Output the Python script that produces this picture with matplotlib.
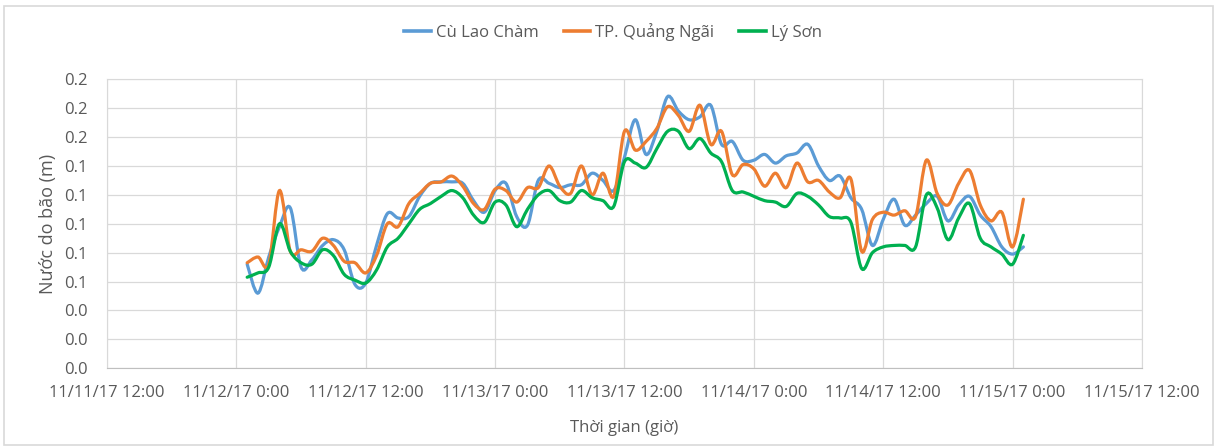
import numpy as np
import pandas as pd
import matplotlib
matplotlib.use("Agg")
import matplotlib.pyplot as plt
import matplotlib.dates as mdates
from matplotlib.path import Path
from matplotlib.patches import PathPatch, Rectangle
from matplotlib.lines import Line2D
from matplotlib.ticker import FormatStrFormatter

plt.rcParams['font.family'] = ['Open Sans', 'DejaVu Sans']

# hourly readings, 11/12/17 1:00 -> 11/15/17 1:00
times = pd.date_range('2017-11-12 01:00', periods=73, freq='h')

cu_lao_cham = [0.072, 0.052, 0.077, 0.098, 0.111, 0.070, 0.075, 0.085, 0.089, 0.082,
               0.058, 0.059, 0.085, 0.107, 0.104, 0.105, 0.119, 0.128, 0.129, 0.129,
               0.128, 0.116, 0.108, 0.123, 0.128, 0.105, 0.099, 0.130, 0.128, 0.125,
               0.127, 0.127, 0.135, 0.130, 0.123, 0.146, 0.172, 0.148, 0.164, 0.188,
               0.178, 0.172, 0.174, 0.182, 0.155, 0.157, 0.144, 0.144, 0.148, 0.142,
               0.147, 0.149, 0.155, 0.140, 0.130, 0.133, 0.118, 0.110, 0.085, 0.103,
               0.117, 0.099, 0.106, 0.114, 0.119, 0.102, 0.113, 0.119, 0.106, 0.098,
               0.084, 0.079, 0.084]

quang_ngai = [0.073, 0.077, 0.072, 0.123, 0.081, 0.082, 0.081, 0.090, 0.085, 0.074,
              0.073, 0.066, 0.078, 0.100, 0.098, 0.114, 0.121, 0.128, 0.129, 0.133,
              0.126, 0.114, 0.110, 0.124, 0.123, 0.115, 0.125, 0.125, 0.140, 0.126,
              0.121, 0.140, 0.120, 0.135, 0.119, 0.164, 0.151, 0.157, 0.166, 0.181,
              0.175, 0.164, 0.182, 0.155, 0.164, 0.134, 0.141, 0.138, 0.126, 0.135,
              0.125, 0.142, 0.129, 0.130, 0.122, 0.118, 0.131, 0.081, 0.103, 0.108,
              0.106, 0.109, 0.105, 0.144, 0.121, 0.113, 0.128, 0.137, 0.113, 0.102,
              0.108, 0.084, 0.117]

ly_son = [0.063, 0.066, 0.070, 0.100, 0.081, 0.073, 0.072, 0.082, 0.078, 0.065,
          0.061, 0.059, 0.068, 0.084, 0.090, 0.100, 0.110, 0.114, 0.119, 0.123,
          0.118, 0.106, 0.101, 0.115, 0.113, 0.098, 0.110, 0.120, 0.123, 0.116,
          0.115, 0.123, 0.118, 0.116, 0.112, 0.143, 0.142, 0.139, 0.152, 0.164,
          0.164, 0.152, 0.159, 0.149, 0.143, 0.123, 0.122, 0.119, 0.116, 0.115,
          0.112, 0.121, 0.119, 0.113, 0.105, 0.104, 0.101, 0.069, 0.080, 0.084,
          0.085, 0.085, 0.084, 0.120, 0.111, 0.089, 0.104, 0.114, 0.090, 0.084,
          0.079, 0.072, 0.092]

series_names = ['Cù Lao Chàm', 'TP. Quảng Ngãi', 'Lý Sơn']
colors = ['#5B9BD5', '#ED7D31', '#00B050']

tick_times = ['2017-11-11 12:00', '2017-11-12 00:00', '2017-11-12 12:00',
              '2017-11-13 00:00', '2017-11-13 12:00', '2017-11-14 00:00',
              '2017-11-14 12:00', '2017-11-15 00:00', '2017-11-15 12:00']
tick_labels = ['11/11/17 12:00', '11/12/17 0:00', '11/12/17 12:00',
               '11/13/17 0:00', '11/13/17 12:00', '11/14/17 0:00',
               '11/14/17 12:00', '11/15/17 0:00', '11/15/17 12:00']


def smooth_path(x, y):
    # smoothed line like excel (catmull-rom as bezier)
    n = len(x)
    verts = [(x[0], y[0])]
    codes = [Path.MOVETO]
    for i in range(n - 1):
        xa, ya = (x[i - 1], y[i - 1]) if i > 0 else (x[i], y[i])
        xd, yd = (x[i + 2], y[i + 2]) if i + 2 < n else (x[i + 1], y[i + 1])
        c1 = (x[i] + (x[i + 1] - xa) / 6, y[i] + (y[i + 1] - ya) / 6)
        c2 = (x[i + 1] - (xd - x[i]) / 6, y[i + 1] - (yd - y[i]) / 6)
        verts += [c1, c2, (x[i + 1], y[i + 1])]
        codes += [Path.CURVE4] * 3
    return Path(verts, codes)


fig = plt.figure(figsize=(12.19, 4.48), dpi=100)
ax = fig.add_axes([0.0878, 0.178, 0.849, 0.645])

xnum = mdates.date2num(times)
handles = []
for vals, name, c in zip([cu_lao_cham, quang_ngai, ly_son], series_names, colors):
    p = smooth_path(xnum, np.array(vals))
    ax.add_patch(PathPatch(p, fill=False, edgecolor=c, lw=2.3, capstyle='round', zorder=3))
    handles.append(Line2D([], [], color=c, lw=2.6, label=name))

tnum = mdates.date2num(pd.to_datetime(tick_times))
ax.set_xlim(tnum[0], tnum[-1])
ax.set_xticks(tnum)
ax.set_xticklabels(tick_labels)
ax.set_ylim(0, 0.2)
ax.set_yticks(np.arange(0, 0.2001, 0.02))
ax.yaxis.set_major_formatter(FormatStrFormatter('%.1f'))

ax.grid(True, color='#D9D9D9', lw=0.9)
ax.set_axisbelow(True)
for s in ax.spines.values():
    s.set_color('#D9D9D9')
ax.spines['bottom'].set_color('#BFBFBF')
ax.tick_params(length=0, labelsize=12, colors='#595959')
ax.tick_params(axis='y', pad=14)
ax.tick_params(axis='x', pad=12)

ax.set_ylabel('Nước do bão (m)', fontsize=13, color='#595959', labelpad=5)
ax.set_xlabel('Thời gian (giờ)', fontsize=12, color='#595959', labelpad=14)

fig.legend(handles=handles, loc='center', bbox_to_anchor=(0.503, 0.928), ncol=3,
           frameon=False, fontsize=12, handlelength=1.6, columnspacing=1.5,
           handletextpad=0.3, labelcolor='#595959')

fig.patches.append(Rectangle((0.003, 0.006), 0.992, 0.981, transform=fig.transFigure,
                             fill=False, edgecolor='#D9D9D9', lw=1.2))

fig.savefig('out.png', dpi=100)
